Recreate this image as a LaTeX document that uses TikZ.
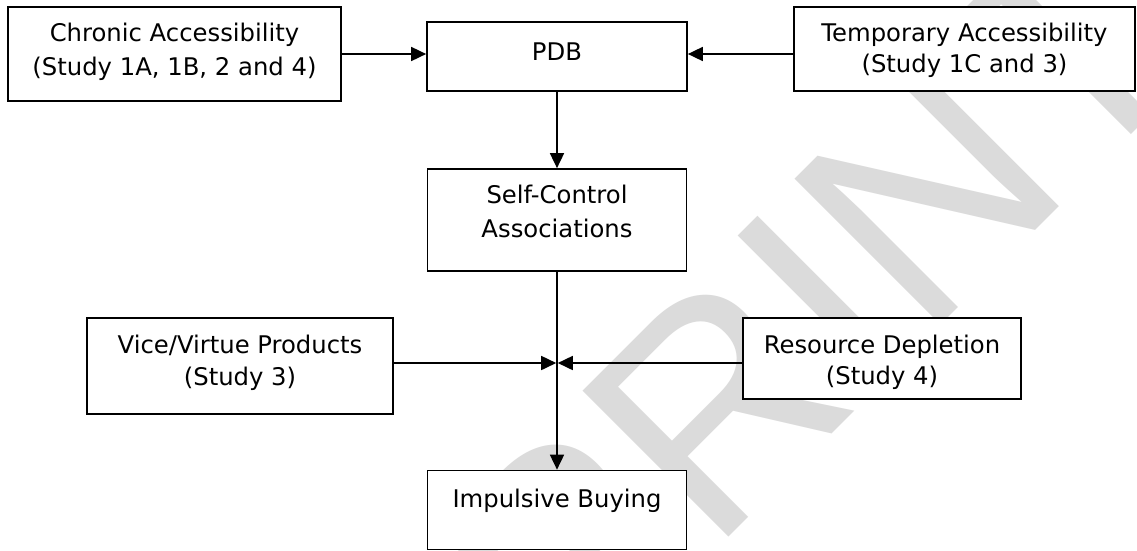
\documentclass[tikz,border=0pt]{standalone}
\usepackage{fontspec}
\setmainfont{DejaVu Sans}
\newfontfamily\wmfont{Liberation Sans}
\usetikzlibrary{arrows.meta}
\begin{document}
\begin{tikzpicture}[x=1pt,y=-1pt,
  box/.style={draw=black, fill=white, line width=1.7pt, inner sep=0pt},
  lbl/.style={font=\fontsize{24.3}{34}\selectfont, anchor=base, inner sep=0pt},
  arr/.style={line width=1.7pt, -{Triangle[length=15pt,width=14pt]}},
  wm/.style={font=\wmfont\fontsize{300}{300}\selectfont, text=black!14, rotate=45, inner sep=0pt}]
\useasboundingbox (0,0) rectangle (1137,550);
\clip (0,0) rectangle (1137,550);
\fill[white] (0,0) rectangle (1137,550);
\node[wm] (wmark) at (815,305) {PRINT};
% boxes
\node[box, minimum width=333pt, minimum height=94pt] (chronic) at (174.5,54) {};
\node[box, minimum width=260pt, minimum height=69pt] (pdb) at (557,56.5) {};
\node[box, minimum width=341pt, minimum height=84pt] (temp) at (964.5,49) {};
\node[box, minimum width=259pt, minimum height=102pt] (self) at (557,220) {};
\node[box, minimum width=306pt, minimum height=96pt] (vice) at (240,366) {};
\node[box, minimum width=278pt, minimum height=81pt] (res) at (882,358.5) {};
\node[box, minimum width=259pt, minimum height=79pt] (imp) at (557,510) {};
% texts
\node[lbl] (chronic1) at (174.5,41) {Chronic Accessibility};
\node[lbl] (chronic2) at (174.5,75) {(Study 1A, 1B, 2 and 4)};
\node[lbl] (pdb1) at (557,60) {PDB};
\node[lbl] (temp1) at (964.5,41) {Temporary Accessibility};
\node[lbl] (temp2) at (964.5,72) {(Study 1C and 3)};
\node[lbl] (self1) at (557,203) {Self-Control};
\node[lbl] (self2) at (557,237) {Associations};
\node[lbl] (vice1) at (240,353) {Vice/Virtue Products};
\node[lbl] (vice2) at (240,385) {(Study 3)};
\node[lbl] (res1) at (882,353) {Resource Depletion};
\node[lbl] (res2) at (882,384) {(Study 4)};
\node[lbl] (imp1) at (557,507) {Impulsive Buying};
% connectors
\coordinate (jy) at (0,363);
\coordinate (J) at (self.south |- jy);
\draw[arr] (chronic.east) -- (chronic.east -| pdb.west);
\draw[arr] (chronic.east -| temp.west) -- (chronic.east -| pdb.east);
\draw[arr] (pdb.south) -- (self.north);
\draw[arr] (self.south) -- (imp.north);
\draw[arr, shorten >=0.8pt] (vice.east |- J) -- (J);
\draw[arr, shorten >=0.8pt] (res.west |- J) -- (J);
\end{tikzpicture}
\end{document}
